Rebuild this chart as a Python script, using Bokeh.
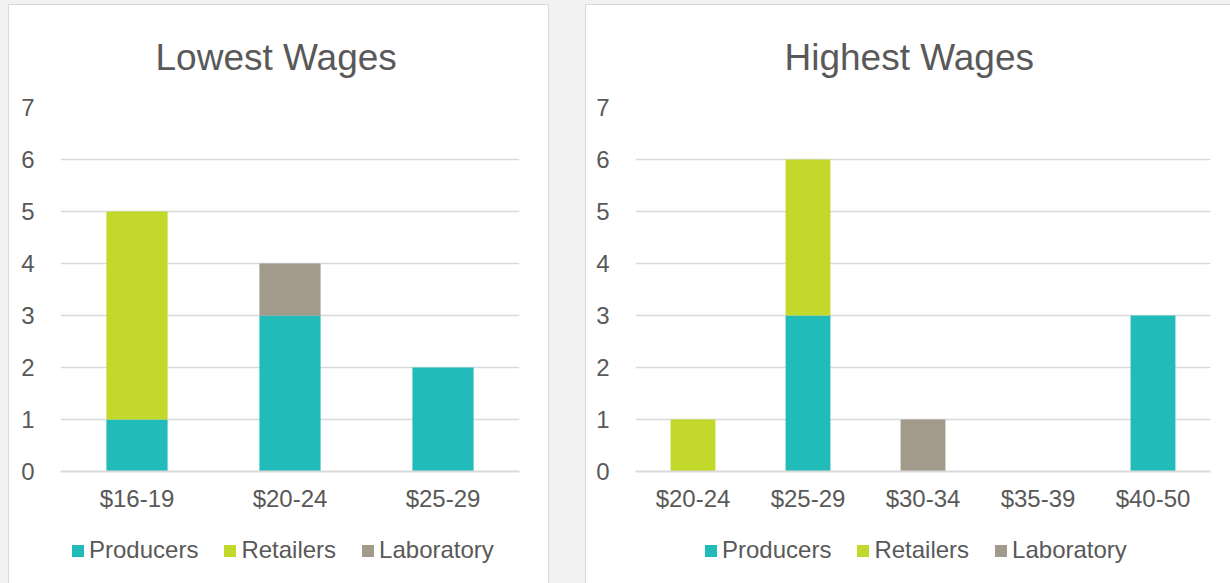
from bokeh.plotting import figure
from bokeh.models import Legend, LegendItem, ColumnDataSource
from bokeh.layouts import row, column
from bokeh.embed import file_html
from bokeh.resources import INLINE

# Wage ranges and counts per sector
low_ranges = ["$16-19", "$20-24", "$25-29"]
low_producers = [1, 3, 2]
low_retailers = [4, 0, 0]
low_laboratory = [0, 1, 0]

high_ranges = ["$20-24", "$25-29", "$30-34", "$35-39", "$40-50"]
high_producers = [0, 3, 0, 0, 3]
high_retailers = [1, 3, 0, 0, 0]
high_laboratory = [0, 0, 1, 0, 0]

sectors = ["Producers", "Retailers", "Laboratory"]
colors = ["#21BCB9", "#C2D92C", "#A29A8A"]
y_ticks = [0, 1, 2, 3, 4, 5, 6, 7]

FONT = "Liberation Sans"
TEXT = "#595959"
GRID = "#D9D9D9"

CHART_H = 520
LEGEND_H = 58


def make_panel(title, ranges, producers, retailers, laboratory, width,
               border_left, border_right, bar_width, title_offset, legend_x,
               margin):
    data = {"range": ranges, "Producers": producers,
            "Retailers": retailers, "Laboratory": laboratory}
    p = figure(x_range=ranges, y_range=(0, 7), width=width, height=CHART_H,
               output_backend="svg", toolbar_location=None,
               min_border_left=border_left, min_border_right=border_right,
               min_border_top=95, min_border_bottom=CHART_H - 95 - 371,
               background_fill_color="white", border_fill_color="white",
               outline_line_color=None)
    p.vbar_stack(sectors, x="range", width=bar_width, source=data,
                 color=colors, line_color=None)

    p.title.text = title
    p.title.align = "left"
    p.title.offset = title_offset
    p.title.standoff = 59
    p.title.text_font = FONT
    p.title.text_font_size = "37px"
    p.title.text_font_style = "normal"
    p.title.text_color = TEXT

    p.yaxis.ticker = y_ticks
    p.yaxis.axis_line_color = None
    p.yaxis.major_tick_line_color = None
    p.yaxis.minor_tick_line_color = None
    p.yaxis.major_label_standoff = 20
    p.xaxis.axis_line_color = GRID
    p.xaxis.axis_line_width = 2
    p.xaxis.major_tick_line_color = None
    p.xaxis.minor_tick_line_color = None
    p.xaxis.major_label_standoff = 7
    for ax in (p.xaxis, p.yaxis):
        ax.major_label_text_font = FONT
        ax.major_label_text_font_size = "24px"
        ax.major_label_text_color = TEXT

    p.xgrid.grid_line_color = None
    p.ygrid.grid_line_color = GRID
    p.ygrid.grid_line_width = 1.5
    p.x_range.range_padding = 0

    # legend strip under the chart; its swatch bars sit outside the visible range
    lg = figure(x_range=(0, 1), y_range=(0, 1), width=width, height=LEGEND_H,
                output_backend="svg", toolbar_location=None,
                x_axis_location=None, y_axis_location=None,
                min_border=0, outline_line_color=None,
                background_fill_color="white", border_fill_color="white")
    lg.xgrid.visible = False
    lg.ygrid.visible = False
    swatches = [lg.vbar(x="x", top="top", width=0.1, color=c, line_color=None,
                        source=ColumnDataSource({"x": [-5], "top": [0]}))
                for c in colors]
    legend = Legend(items=[LegendItem(label=s, renderers=[r])
                           for s, r in zip(sectors, swatches)],
                    orientation="horizontal", location=(legend_x, 19),
                    glyph_width=15, glyph_height=15, label_standoff=4,
                    spacing=24, padding=0, margin=0,
                    label_text_font=FONT, label_text_font_size="24px",
                    label_text_color=TEXT, border_line_color=None,
                    background_fill_alpha=0)
    lg.add_layout(legend)

    return column(p, lg, spacing=0, margin=margin,
                  styles={"outline": "1px solid #D9D9D9",
                          "background-color": "white"})


left = make_panel("Lowest Wages", low_ranges, low_producers, low_retailers,
                  low_laboratory, width=539, border_left=51, border_right=29,
                  bar_width=0.4, title_offset=95, legend_x=10,
                  margin=(5, 0, 0, 9))
right = make_panel("Highest Wages", high_ranges, high_producers, high_retailers,
                   high_laboratory, width=644, border_left=49, border_right=20,
                   bar_width=0.39, title_offset=149, legend_x=68,
                   margin=(5, 0, 0, 38))

layout = row(left, right, styles={"background-color": "#F2F2F2"},
             width=1230, height=583)

open("out.html", "w").write(file_html(layout, INLINE))
